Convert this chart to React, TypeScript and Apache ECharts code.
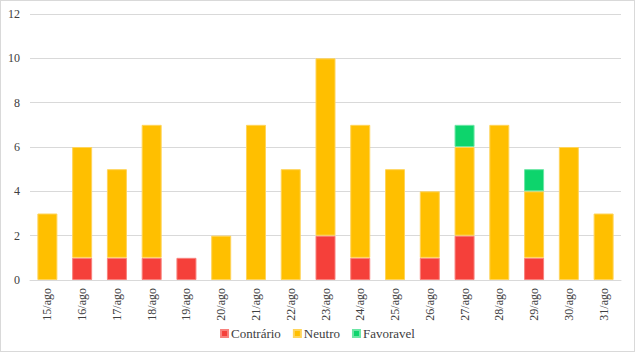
import React, { useEffect, useRef } from "react";
import * as echarts from "echarts";

const categories = ["15/ago","16/ago","17/ago","18/ago","19/ago","20/ago","21/ago","22/ago","23/ago","24/ago","25/ago","26/ago","27/ago","28/ago","29/ago","30/ago","31/ago"];
const contrario = [0,1,1,1,1,0,0,0,2,1,0,1,2,0,1,0,0];
const neutro = [3,5,4,6,0,2,7,5,8,6,5,3,4,7,3,6,3];
const favoravel = [0,0,0,0,0,0,0,0,0,0,0,0,1,0,1,0,0];
const yTicks = [0,2,4,6,8,10,12];

const font = "serif";

export default function App() {
  const ref = useRef<HTMLDivElement>(null);
  useEffect(() => {
    document.body.style.margin = "0";
    const chart = echarts.init(ref.current!, null, { renderer: "svg" });
    const mk = (name: string, data: number[], color: string, border: string) => ({
      name,
      type: "bar",
      stack: "s",
      barWidth: 20,
      data: data.map((v) => (v === 0 ? null : v)),
      itemStyle: { color, borderColor: border, borderWidth: 1 },
    });
    chart.setOption({
      animation: false,
      textStyle: { fontFamily: font },
      grid: { left: 29, right: 13, top: 13, bottom: 71, containLabel: false },
      legend: {
        bottom: 6,
        left: "center",
        itemWidth: 7,
        itemHeight: 7,
        itemGap: 12,
        icon: "rect",
        textStyle: { fontFamily: font, fontSize: 13, color: "#404040", padding: [0, 0, 0, -2] },
        data: ["Contrário", "Neutro", "Favoravel"],
      },
      xAxis: {
        type: "category",
        data: categories,
        axisTick: { show: false },
        axisLine: { lineStyle: { color: "#d9d9d9" } },
        axisLabel: { rotate: 90, fontFamily: font, fontSize: 12, color: "#404040", margin: 8, interval: 0 },
      },
      yAxis: {
        type: "value",
        min: yTicks[0],
        max: yTicks[yTicks.length - 1],
        interval: 2,
        axisLine: { show: false },
        axisTick: { show: false },
        splitLine: { lineStyle: { color: "#d9d9d9" } },
        axisLabel: { fontFamily: font, fontSize: 12, color: "#404040", margin: 10 },
      },
      series: [
        mk("Contrário", contrario, "#F5403A", "#F8817C"),
        mk("Neutro", neutro, "#FFBF00", "#FFD45A"),
        mk("Favoravel", favoravel, "#0DD46C", "#6BE6A5"),
      ],
    });
    return () => chart.dispose();
  }, []);
  return (
    <div
      style={{
        position: "absolute",
        left: 0,
        top: 0,
        width: 635,
        height: 352,
        boxSizing: "border-box",
        border: "1px solid #d9d9d9",
        background: "#fff",
      }}
    >
      <div ref={ref} style={{ width: 633, height: 350 }} />
    </div>
  );
}
